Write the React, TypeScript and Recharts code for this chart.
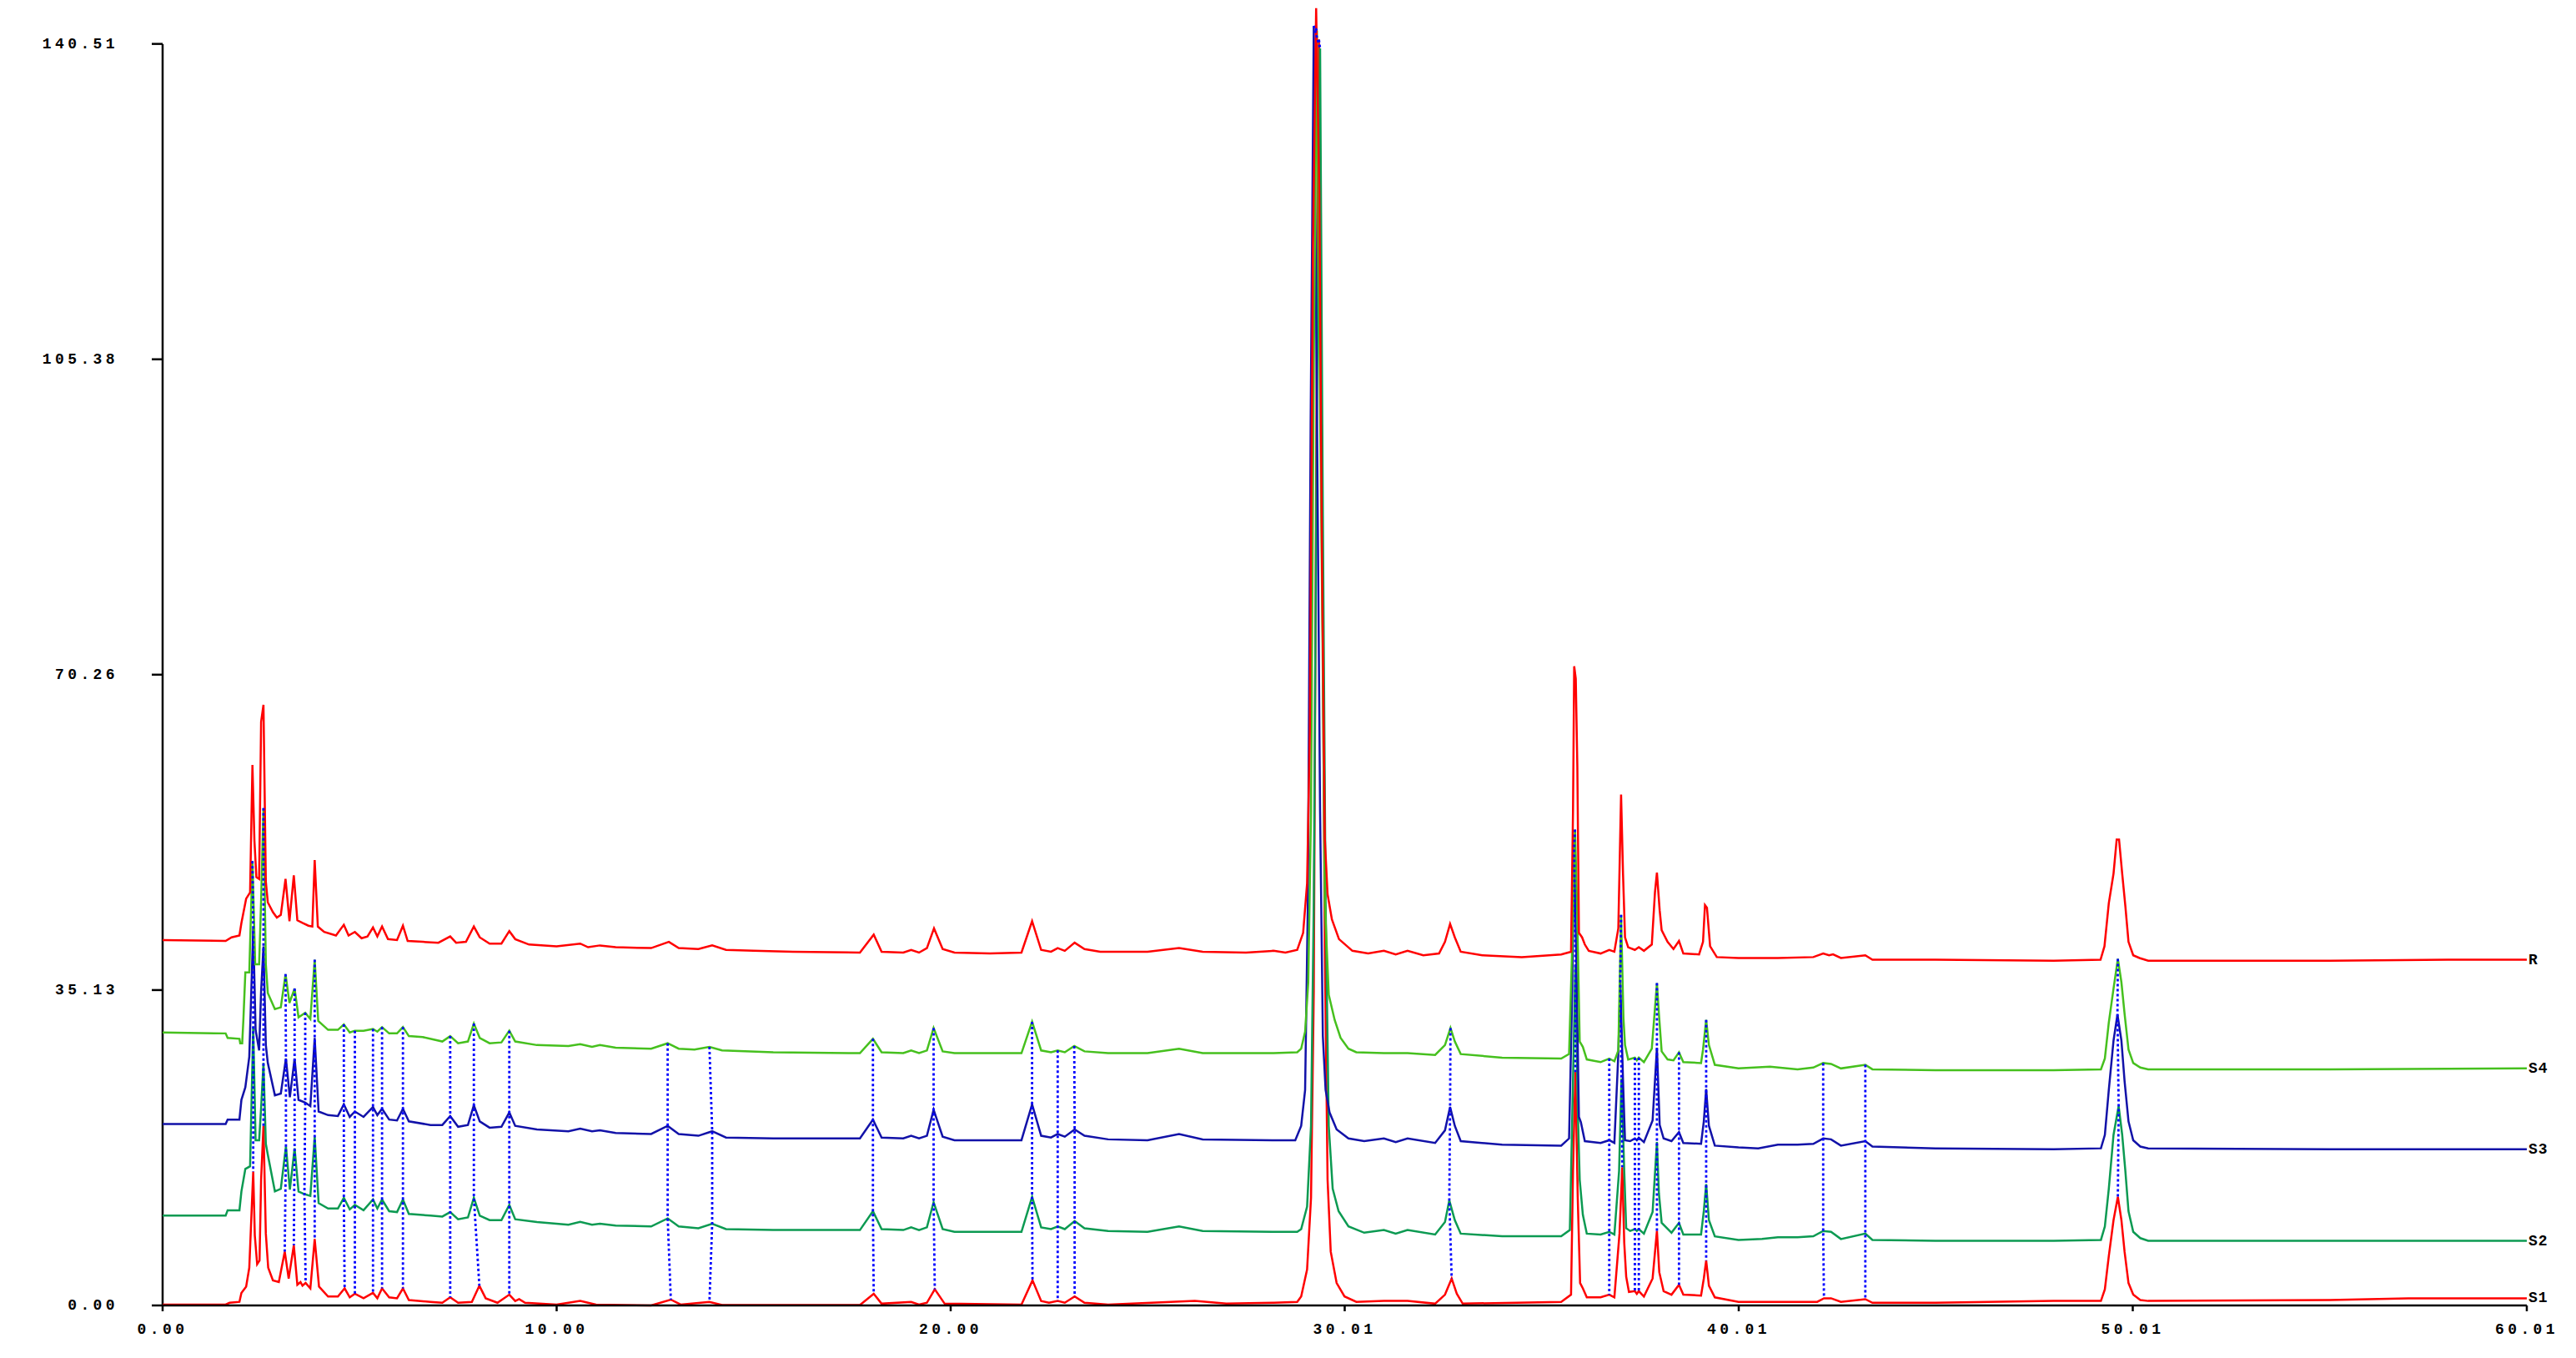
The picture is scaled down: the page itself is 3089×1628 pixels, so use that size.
import { LineChart, Line, XAxis, YAxis, ReferenceLine } from "recharts"

type Pt = [number, number]

const xTicks = [0, 10.0017, 20.0033, 30.005, 40.0067, 50.0083, 60.01]
const xTickLabels = ["0.00", "10.00", "20.00", "30.01", "40.01", "50.01", "60.01"]
const yTicks = [0, 35.1275, 70.255, 105.3825, 140.51]
const yTickLabels = ["0.00", "35.13", "70.26", "105.38", "140.51"]

// retention time (min) / signal
const rTrace: Pt[] = [
  [0, 40.7], [1.6, 40.6], [1.75, 41], [1.95, 41.2], [2.0, 42.6], [2.12, 45.3], [2.22, 46], [2.28, 60.2], [2.33, 51.8],
  [2.38, 47.7], [2.45, 47.5], [2.5, 65], [2.56, 66.9], [2.62, 47.2], [2.67, 44.9], [2.8, 43.8], [2.9, 43.2], [3.0, 43.5],
  [3.12, 47.5], [3.22, 42.8], [3.33, 47.9], [3.42, 42.9], [3.55, 42.6], [3.7, 42.3], [3.8, 42.2], [3.86, 49.6], [3.94, 42.2],
  [4.1, 41.6], [4.4, 41.2], [4.6, 42.4], [4.72, 41.2], [4.88, 41.6], [5.05, 40.9], [5.2, 41.1], [5.34, 42.1], [5.45, 41.1],
  [5.57, 42.2], [5.72, 40.8], [5.95, 40.7], [6.1, 42.3], [6.22, 40.6], [6.6, 40.5], [7.0, 40.4], [7.3, 41.1], [7.45, 40.4],
  [7.7, 40.5], [7.9, 42.2], [8.05, 41.0], [8.3, 40.3], [8.6, 40.3], [8.8, 41.7], [8.95, 40.8], [9.3, 40.2], [10.0, 40.0],
  [10.6, 40.3], [10.8, 39.9], [11.1, 40.1], [11.5, 39.9], [12.4, 39.8], [12.85, 40.5], [13.1, 39.8], [13.6, 39.7], [13.95, 40.1],
  [14.3, 39.6], [15, 39.5], [16, 39.4], [17.7, 39.3], [18.05, 41.3], [18.25, 39.4], [18.8, 39.3], [19.0, 39.6], [19.2, 39.3],
  [19.4, 39.8], [19.58, 42.0], [19.8, 39.7], [20.1, 39.3], [21.0, 39.2], [21.8, 39.3], [22.07, 42.8], [22.3, 39.6], [22.55, 39.4],
  [22.72, 39.8], [22.9, 39.5], [23.15, 40.4], [23.4, 39.7], [23.8, 39.4], [25.0, 39.4], [25.8, 39.8], [26.4, 39.4], [27.5, 39.3],
  [28.2, 39.5], [28.5, 39.3], [28.8, 39.6], [28.95, 41.5], [29.05, 47], [29.12, 64], [29.2, 118], [29.28, 144.5], [29.36, 124],
  [29.43, 82], [29.5, 52], [29.57, 45.8], [29.68, 43], [29.86, 40.8], [30.2, 39.5], [30.6, 39.2], [31.0, 39.5], [31.3, 39.1],
  [31.6, 39.5], [32.0, 39.0], [32.4, 39.2], [32.55, 40.5], [32.68, 42.5], [32.8, 41.0], [32.95, 39.4], [33.5, 39.0], [34.5, 38.8],
  [35.5, 39.1], [35.75, 39.4], [35.8, 55], [35.83, 71.2], [35.87, 69.8], [35.91, 60], [35.95, 41.5], [36.03, 41], [36.1, 40.2],
  [36.2, 39.5], [36.5, 39.2], [36.72, 39.6], [36.85, 39.4], [36.95, 42], [37.02, 56.9], [37.07, 48], [37.12, 41], [37.2, 39.9],
  [37.37, 39.6], [37.47, 39.9], [37.6, 39.5], [37.8, 40.2], [37.88, 46], [37.93, 48.2], [38.0, 44], [38.05, 41.8], [38.2, 40.5],
  [38.35, 39.7], [38.49, 40.6], [38.6, 39.2], [39.0, 39.1], [39.1, 40.5], [39.15, 44.6], [39.2, 44.3], [39.28, 40], [39.45, 38.8],
  [40.0, 38.7], [41.0, 38.7], [41.9, 38.8], [42.15, 39.2], [42.3, 39.0], [42.4, 39.1], [42.6, 38.7], [43.22, 39.0], [43.4, 38.5],
  [45, 38.5], [48, 38.4], [49.19, 38.5], [49.29, 40.0], [49.4, 44.8], [49.52, 48.1], [49.6, 51.9], [49.66, 51.9], [49.74, 48.1],
  [49.82, 44.5], [49.9, 40.5], [50.02, 39.0], [50.18, 38.7], [50.4, 38.4], [55, 38.4], [58, 38.5], [60.01, 38.5],
]

const s4Trace: Pt[] = [
  [0, 30.4], [1.6, 30.3], [1.65, 29.8], [1.95, 29.7], [1.97, 29.2], [2.02, 29.2], [2.05, 31.8], [2.1, 37.1], [2.2, 37.1],
  [2.28, 49.5], [2.35, 38.0], [2.45, 38.0], [2.5, 45], [2.56, 55.4], [2.62, 38], [2.67, 34.8], [2.85, 33.0], [3.0, 33.2],
  [3.12, 36.9], [3.22, 33.7], [3.35, 35.3], [3.45, 32.1], [3.62, 32.6], [3.75, 31.9], [3.86, 38.5], [3.95, 31.7], [4.2, 30.7],
  [4.45, 30.7], [4.6, 31.3], [4.75, 30.4], [4.88, 30.6], [5.1, 30.6], [5.34, 30.8], [5.45, 30.5], [5.57, 31.0], [5.75, 30.3],
  [5.95, 30.3], [6.1, 31.0], [6.25, 30.0], [6.6, 29.9], [7.1, 29.4], [7.3, 30.0], [7.5, 29.2], [7.75, 29.4], [7.9, 31.4],
  [8.05, 29.8], [8.3, 29.2], [8.6, 29.3], [8.8, 30.6], [8.95, 29.4], [9.5, 29.0], [10.3, 28.9], [10.6, 29.1], [10.9, 28.8],
  [11.1, 29.0], [11.5, 28.7], [12.4, 28.6], [12.82, 29.2], [13.1, 28.6], [13.5, 28.5], [13.88, 28.8], [14.2, 28.4], [15.5, 28.2],
  [17.7, 28.1], [18.03, 29.7], [18.25, 28.2], [18.8, 28.1], [19.0, 28.4], [19.2, 28.1], [19.4, 28.4], [19.57, 30.9], [19.8, 28.3],
  [20.1, 28.1], [21.8, 28.1], [22.07, 31.6], [22.3, 28.4], [22.55, 28.2], [22.72, 28.4], [22.9, 28.2], [23.14, 28.9], [23.4, 28.3],
  [24, 28.1], [25.0, 28.1], [25.8, 28.6], [26.4, 28.1], [28.2, 28.1], [28.8, 28.2], [28.9, 28.6], [29.0, 30.5], [29.08, 36],
  [29.15, 55], [29.22, 105], [29.3, 142], [29.38, 100], [29.44, 75], [29.5, 45], [29.6, 34.6], [29.75, 31.8], [29.9, 29.8],
  [30.1, 28.6], [30.3, 28.2], [31.0, 28.1], [31.6, 28.1], [32.3, 27.9], [32.55, 29], [32.69, 30.9], [32.8, 29.4], [32.95, 28.0],
  [34, 27.6], [35.5, 27.5], [35.7, 28.0], [35.78, 40], [35.85, 53], [35.9, 45], [35.97, 29.4], [36.05, 28.8], [36.15, 27.4],
  [36.5, 27.1], [36.72, 27.5], [36.85, 27.2], [36.95, 28.4], [37.02, 43.5], [37.08, 32], [37.12, 29.0], [37.2, 27.4], [37.37, 27.6],
  [37.42, 27.3], [37.47, 27.6], [37.6, 27.1], [37.8, 28.6], [37.93, 35.9], [37.98, 32.5], [38.05, 28.3], [38.2, 27.4], [38.35, 27.3],
  [38.49, 28.2], [38.6, 27.1], [39.05, 27.0], [39.1, 28.5], [39.18, 31.8], [39.25, 29], [39.4, 26.8], [40, 26.4], [40.8, 26.6],
  [41.5, 26.3], [41.9, 26.5], [42.15, 27.0], [42.35, 26.9], [42.6, 26.4], [43.22, 26.8], [43.4, 26.3], [45, 26.2], [48, 26.2],
  [49.2, 26.3], [49.3, 27.5], [49.4, 31.5], [49.52, 35.3], [49.63, 38.6], [49.72, 36], [49.8, 32.5], [49.9, 28.5], [50.02, 27],
  [50.2, 26.5], [50.4, 26.3], [55, 26.3], [60.01, 26.4],
]

const s3Trace: Pt[] = [
  [0, 20.2], [1.6, 20.2], [1.65, 20.7], [1.95, 20.7], [2.0, 22.9], [2.1, 24.3], [2.2, 27.7], [2.3, 42], [2.36, 30.7],
  [2.45, 28.4], [2.5, 35], [2.56, 40], [2.62, 29], [2.67, 27.0], [2.85, 23.4], [3.0, 23.6], [3.13, 27.5], [3.23, 23.2],
  [3.35, 27.5], [3.45, 22.9], [3.62, 22.6], [3.75, 22.2], [3.86, 29.8], [3.96, 21.6], [4.2, 21.2], [4.45, 21.1], [4.6, 22.4],
  [4.75, 21.0], [4.88, 21.6], [5.1, 21.0], [5.34, 22.1], [5.45, 21.2], [5.57, 21.9], [5.75, 20.7], [5.95, 20.6], [6.1, 21.9],
  [6.25, 20.5], [6.8, 20.1], [7.1, 20.1], [7.3, 21.1], [7.5, 19.9], [7.75, 20.1], [7.9, 22.3], [8.05, 20.5], [8.3, 19.8],
  [8.6, 19.9], [8.8, 21.5], [8.95, 20.0], [9.5, 19.6], [10.3, 19.4], [10.6, 19.7], [10.9, 19.4], [11.1, 19.5], [11.5, 19.2],
  [12.4, 19.1], [12.82, 20.0], [13.1, 19.1], [13.6, 18.9], [13.95, 19.4], [14.3, 18.7], [15.5, 18.6], [17.7, 18.6], [18.03, 20.7],
  [18.25, 18.7], [18.8, 18.6], [19.0, 18.9], [19.2, 18.6], [19.4, 18.9], [19.57, 21.8], [19.8, 18.8], [20.1, 18.4], [21.8, 18.4],
  [22.07, 22.4], [22.3, 18.9], [22.55, 18.7], [22.72, 19.1], [22.9, 18.8], [23.15, 19.6], [23.4, 18.9], [24.0, 18.5], [25.0, 18.4],
  [25.8, 19.1], [26.4, 18.5], [28.2, 18.4], [28.75, 18.4], [28.9, 20], [29.0, 24], [29.07, 45], [29.14, 98], [29.22, 142.5],
  [29.3, 100], [29.38, 55], [29.45, 30], [29.52, 24], [29.62, 21.5], [29.8, 19.6], [30.1, 18.6], [30.5, 18.3], [31.0, 18.6],
  [31.3, 18.2], [31.6, 18.6], [32.3, 18.1], [32.55, 19.5], [32.68, 22.1], [32.8, 20], [32.95, 18.3], [34, 17.9], [35.5, 17.8],
  [35.7, 18.6], [35.78, 35], [35.83, 51], [35.88, 40], [35.95, 21], [36.0, 20.4], [36.1, 18.3], [36.5, 18.1], [36.72, 18.4],
  [36.85, 18.1], [36.95, 28], [37.0, 36], [37.07, 25], [37.12, 18.4], [37.25, 18.3], [37.37, 18.6], [37.42, 18.4], [37.47, 18.7],
  [37.6, 18.2], [37.82, 20.6], [37.93, 28.7], [38.0, 20.1], [38.1, 18.6], [38.3, 18.3], [38.49, 19.3], [38.6, 18.1], [39.05, 18.0],
  [39.12, 20.5], [39.18, 24.1], [39.25, 20], [39.4, 17.8], [40, 17.6], [40.5, 17.5], [41.0, 17.9], [41.5, 17.9], [41.9, 18.0],
  [42.15, 18.6], [42.35, 18.5], [42.6, 17.8], [43.22, 18.3], [43.4, 17.7], [45, 17.5], [48, 17.4], [49.2, 17.5], [49.3, 19],
  [49.4, 24], [49.52, 29.5], [49.62, 32.4], [49.72, 29.5], [49.8, 25], [49.9, 20.5], [50.02, 18.4], [50.2, 17.7], [50.4, 17.5],
  [55, 17.4], [60.01, 17.4],
]

const s2Trace: Pt[] = [
  [0, 10.0], [1.6, 10.0], [1.65, 10.6], [1.95, 10.6], [2.0, 12.7], [2.1, 15.2], [2.22, 15.5], [2.3, 31], [2.36, 18.4],
  [2.45, 18.4], [2.5, 22], [2.56, 27], [2.62, 18], [2.67, 16.8], [2.85, 12.7], [3.0, 13.0], [3.13, 17.7], [3.23, 12.9],
  [3.35, 17.5], [3.45, 12.7], [3.6, 12.4], [3.75, 12.2], [3.86, 18.8], [3.96, 11.4], [4.2, 10.8], [4.45, 10.8], [4.6, 12.0],
  [4.75, 10.7], [4.88, 11.2], [5.1, 10.6], [5.34, 11.8], [5.45, 10.8], [5.57, 11.8], [5.75, 10.5], [5.95, 10.4], [6.1, 11.8],
  [6.25, 10.2], [6.8, 10.0], [7.1, 9.9], [7.3, 10.4], [7.5, 9.6], [7.75, 9.8], [7.9, 12.0], [8.05, 10.0], [8.3, 9.5],
  [8.6, 9.5], [8.8, 11.2], [8.95, 9.6], [9.5, 9.3], [10.3, 9.0], [10.6, 9.3], [10.9, 9.0], [11.1, 9.1], [11.5, 8.9],
  [12.4, 8.8], [12.82, 9.7], [13.1, 8.8], [13.6, 8.6], [13.95, 9.1], [14.3, 8.5], [15.5, 8.4], [17.7, 8.4], [18.03, 10.5],
  [18.25, 8.5], [18.8, 8.4], [19.0, 8.7], [19.2, 8.4], [19.4, 8.7], [19.57, 11.5], [19.8, 8.5], [20.1, 8.2], [21.8, 8.2],
  [22.07, 12.1], [22.3, 8.7], [22.55, 8.5], [22.72, 8.8], [22.9, 8.5], [23.15, 9.4], [23.4, 8.6], [24.0, 8.3], [25.0, 8.2],
  [25.8, 8.8], [26.4, 8.3], [28.2, 8.2], [28.8, 8.2], [28.9, 8.5], [29.05, 11], [29.15, 20], [29.22, 45], [29.3, 100],
  [29.38, 140], [29.45, 88], [29.52, 45], [29.6, 20], [29.7, 13], [29.85, 10.5], [30.1, 8.8], [30.5, 8.1], [31.0, 8.4],
  [31.3, 8.0], [31.6, 8.4], [32.3, 7.9], [32.55, 9.3], [32.66, 11.7], [32.8, 9.5], [32.95, 8.0], [34, 7.7], [35.5, 7.7],
  [35.72, 8.4], [35.8, 25], [35.86, 38], [35.92, 22], [35.97, 14.0], [36.05, 10.1], [36.15, 8.0], [36.5, 7.9], [36.72, 8.2],
  [36.85, 7.9], [36.97, 15], [37.03, 25.3], [37.1, 15], [37.15, 8.6], [37.25, 8.3], [37.37, 8.5], [37.42, 8.3], [37.47, 8.5],
  [37.6, 8.0], [37.82, 10.4], [37.93, 18.2], [37.98, 12.5], [38.05, 9.2], [38.3, 8.1], [38.49, 9.2], [38.6, 7.9], [39.05, 7.9],
  [39.12, 10.5], [39.18, 13.5], [39.25, 9.5], [39.4, 7.7], [40, 7.3], [40.6, 7.4], [41.0, 7.6], [41.5, 7.6], [41.9, 7.7],
  [42.15, 8.3], [42.35, 8.2], [42.6, 7.4], [43.22, 8.0], [43.4, 7.3], [45, 7.2], [48, 7.2], [49.2, 7.3], [49.3, 8.8],
  [49.4, 13], [49.52, 19], [49.65, 22.2], [49.74, 19], [49.82, 15], [49.9, 10.5], [50.02, 8.2], [50.2, 7.5], [50.4, 7.2],
  [55, 7.2], [60.01, 7.2],
]

const s1Trace: Pt[] = [
  [0, 0.1], [1.6, 0.1], [1.7, 0.3], [1.95, 0.4], [2.0, 1.4], [2.12, 2.1], [2.2, 4.2], [2.3, 14.9], [2.34, 7.8],
  [2.4, 4.6], [2.46, 5.0], [2.5, 14], [2.56, 20], [2.62, 8], [2.68, 4.2], [2.8, 2.8], [2.95, 2.6], [3.1, 6.0],
  [3.2, 3.0], [3.33, 6.7], [3.42, 2.3], [3.5, 2.6], [3.55, 2.2], [3.63, 2.5], [3.75, 1.9], [3.86, 7.4], [3.97, 2.1],
  [4.2, 1.0], [4.45, 1.0], [4.62, 1.9], [4.75, 0.9], [4.88, 1.3], [5.1, 0.8], [5.34, 1.4], [5.45, 0.8], [5.57, 1.9],
  [5.75, 0.9], [5.95, 0.8], [6.1, 1.9], [6.25, 0.6], [6.8, 0.4], [7.1, 0.3], [7.3, 0.9], [7.5, 0.3], [7.85, 0.4],
  [8.04, 2.2], [8.2, 0.8], [8.5, 0.3], [8.8, 1.2], [8.95, 0.5], [9.05, 0.7], [9.2, 0.3], [10, 0.1], [10.6, 0.5],
  [11.0, 0.1], [12.4, 0.0], [12.9, 0.65], [13.15, 0.1], [13.88, 0.4], [14.2, 0.05], [17.7, 0.05], [18.05, 1.3], [18.25, 0.2],
  [19.0, 0.4], [19.2, 0.1], [19.4, 0.3], [19.6, 1.8], [19.85, 0.2], [21.8, 0.1], [22.08, 2.8], [22.3, 0.5], [22.5, 0.3],
  [22.72, 0.5], [22.9, 0.3], [23.15, 1.0], [23.4, 0.3], [24, 0.1], [26.2, 0.5], [27, 0.2], [28.2, 0.3], [28.8, 0.4],
  [28.9, 1], [29.05, 4], [29.15, 12], [29.22, 35], [29.3, 110], [29.35, 141], [29.42, 95], [29.5, 40], [29.57, 14],
  [29.65, 6], [29.8, 2.5], [30.0, 1], [30.3, 0.4], [31.0, 0.5], [31.6, 0.5], [32.3, 0.2], [32.55, 1.2], [32.72, 3.0],
  [32.85, 1.3], [33.0, 0.2], [35.5, 0.4], [35.75, 1.2], [35.8, 15], [35.86, 26], [35.92, 12], [35.98, 2.5], [36.05, 1.9],
  [36.15, 0.9], [36.5, 0.9], [36.72, 1.2], [36.85, 0.9], [36.98, 8], [37.05, 15.4], [37.1, 7], [37.15, 3.2], [37.22, 1.5],
  [37.37, 1.6], [37.42, 1.3], [37.47, 1.6], [37.6, 1.0], [37.82, 3.0], [37.93, 8.3], [37.99, 3.7], [38.1, 1.6], [38.3, 1.2],
  [38.49, 2.3], [38.6, 1.2], [39.05, 1.1], [39.12, 3], [39.18, 5.0], [39.25, 2.2], [39.4, 0.9], [40, 0.4], [42.0, 0.4],
  [42.17, 0.8], [42.35, 0.8], [42.6, 0.4], [43.22, 0.7], [43.4, 0.3], [45, 0.3], [48, 0.5], [49.2, 0.5], [49.3, 1.8],
  [49.4, 5.5], [49.52, 9.5], [49.63, 12.1], [49.72, 9.5], [49.8, 6], [49.9, 2.5], [50.02, 1.2], [50.2, 0.6], [50.4, 0.5],
  [55, 0.6], [57, 0.8], [60.01, 0.8],
]

// matched peaks, joined S4 -> S3 -> S2 -> S1 by dotted links
const linkS4 = [2.28, 2.56, 3.12, 3.35, 3.62, 3.86, 4.6, 4.88, 5.34, 5.57, 6.1, 7.3, 7.9, 8.8, 12.82, 13.88, 18.03, 19.57, 22.07, 22.72, 23.14, 29.3, 32.69, 35.85, 36.72, 37.02, 37.37, 37.47, 37.93, 38.49, 39.18, 42.15, 43.22, 49.63]
const linkS3 = [2.3, 2.56, 3.13, 3.35, 3.62, 3.86, 4.6, 4.88, 5.34, 5.57, 6.1, 7.3, 7.9, 8.8, 12.82, 13.95, 18.03, 19.57, 22.07, 22.72, 23.15, 29.22, 32.68, 35.83, 36.72, 37.0, 37.37, 37.47, 37.93, 38.49, 39.18, 42.15, 43.22, 49.62]
const linkS2 = [2.3, 2.56, 3.13, 3.35, 3.6, 3.86, 4.6, 4.88, 5.34, 5.57, 6.1, 7.3, 7.9, 8.8, 12.82, 13.95, 18.03, 19.57, 22.07, 22.72, 23.15, 29.38, 32.66, 35.86, 36.72, 37.03, 37.37, 37.47, 37.93, 38.49, 39.18, 42.15, 43.22, 49.65]
const linkS1 = [2.3, 2.56, 3.1, 3.33, 3.63, 3.86, 4.62, 4.88, 5.34, 5.57, 6.1, 7.3, 8.04, 8.8, 12.9, 13.88, 18.05, 19.6, 22.08, 22.72, 23.15, 29.35, 32.72, 35.86, 36.72, 37.05, 37.37, 37.47, 37.93, 38.49, 39.18, 42.17, 43.22, 49.63]

const traceNames = ["S1", "S2", "S3", "S4", "R"]
const traceColors = ["#ff0000", "#0c9a52", "#1212a8", "#46c01e", "#ff0000"]
const traces = [s1Trace, s2Trace, s3Trace, s4Trace, rTrace]

const FONT = "'Liberation Mono', 'DejaVu Sans Mono', monospace"

function vertexAt(tr: Pt[], t: number) {
  let best = tr[0]
  for (const p of tr) if (Math.abs(p[0] - t) < Math.abs(best[0] - t)) best = p
  return { t: best[0], v: best[1] }
}

const links = linkS4.map((_, i) => [
  vertexAt(s4Trace, linkS4[i]),
  vertexAt(s3Trace, linkS3[i]),
  vertexAt(s2Trace, linkS2[i]),
  vertexAt(s1Trace, linkS1[i]),
])

function YTick({ x, y, payload }: any) {
  const i = yTicks.indexOf(payload.value)
  return (
    <text x={x} y={y} textAnchor="end" dominantBaseline="central" fontFamily={FONT} fontSize={18} fontWeight={700} letterSpacing={4.4} fill="#000">
      {yTickLabels[i]}
    </text>
  )
}

function XTick({ x, y, payload }: any) {
  const i = xTicks.indexOf(payload.value)
  return (
    <text x={x} y={y + 27} textAnchor="middle" fontFamily={FONT} fontSize={18} fontWeight={700} letterSpacing={4.4} fill="#000">
      {xTickLabels[i]}
    </text>
  )
}

export default function App() {
  return (
    <div style={{ position: "absolute", left: 0, top: 0, width: 3089, height: 1628, background: "#fff" }}>
      <LineChart width={3089} height={1628} margin={{ top: 0, right: 59, bottom: 0, left: 0 }}>
        <XAxis
          type="number"
          dataKey="t"
          domain={[0, 60.01]}
          ticks={xTicks}
          interval={0}
          height={63}
          tickSize={7}
          tickMargin={0}
          stroke="#000"
          strokeWidth={2.5}
          tick={<XTick />}
        />
        <YAxis
          type="number"
          domain={[0, 145.4]}
          ticks={yTicks}
          interval={0}
          width={195}
          tickSize={13}
          tickMargin={40}
          axisLine={false}
          tickLine={{ stroke: "#000", strokeWidth: 2.5 }}
          tick={<YTick />}
        />
        <ReferenceLine segment={[{ x: 0, y: 0 }, { x: 0, y: 140.51 }]} stroke="#000" strokeWidth={2.5} />
        {traces.map((tr, k) => {
          const data = tr.map(([t, v]) => ({ t, v }))
          return (
            <Line
              key={traceNames[k]}
              data={data}
              dataKey="v"
              type="linear"
              stroke={traceColors[k]}
              strokeWidth={2.5}
              dot={false}
              activeDot={false}
              isAnimationActive={false}
              label={(p: any) =>
                p.index === data.length - 1 ? (
                  <text x={p.x + 2} y={p.y} dominantBaseline="central" fontFamily={FONT} fontSize={18} fontWeight={700} letterSpacing={1} fill="#000">
                    {traceNames[k]}
                  </text>
                ) : null
              }
            />
          )
        })}
        {links.map((pts, i) => (
          <Line
            key={"link" + i}
            data={pts}
            dataKey="v"
            type="linear"
            stroke="#0000ff"
            strokeWidth={2.8}
            strokeDasharray="3 3"
            dot={false}
            activeDot={false}
            isAnimationActive={false}
          />
        ))}
      </LineChart>
    </div>
  )
}
